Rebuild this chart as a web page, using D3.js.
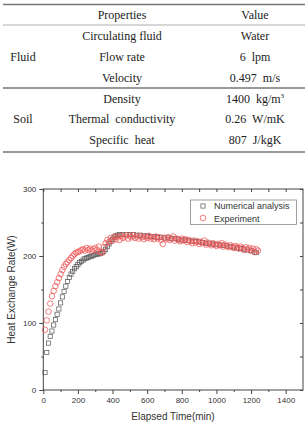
<!DOCTYPE html>
<html>
<head>
<meta charset="utf-8">
<script src="https://cdn.jsdelivr.net/npm/d3@7"></script>
<style>
  body { margin: 0; background: #fff; }
  svg { display: block; }
</style>
</head>
<body>
<div id="chart"></div>
<script>
// table rows
const groups = [
  { name: "Fluid", rows: [["Circulating fluid", "Water"], ["Flow rate", "6  lpm"], ["Velocity", "0.497  m/s"]] },
  { name: "Soil", rows: [["Density", "1400  kg/m"], ["Thermal  conductivity", "0.26  W/mK"], ["Specific  heat", "807  J/kgK"]] }
];
const headers = ["Properties", "Value"];

// series: [time(min), heat exchange rate(W)]
const numerical = [
  [10, 26], [20, 56], [30, 70], [40, 80], [50, 88], [60, 97], [70, 105], [80, 113], [90, 121], [100, 130],
  [110, 139], [120, 147], [130, 155], [140, 162], [150, 168], [160, 173], [170, 177], [180, 181], [190, 184], [200, 187],
  [210, 190], [220, 192], [230, 194], [240, 196], [250, 197], [260, 198], [270, 199], [280, 200], [290, 201], [300, 202],
  [310, 203], [320, 203], [330, 204], [340, 205], [350, 207], [360, 210], [370, 214], [380, 218], [390, 222], [400, 225],
  [410, 228], [420, 230], [430, 231], [440, 232], [460, 232], [480, 232], [500, 232], [520, 232], [540, 231], [560, 231],
  [580, 230], [600, 230], [620, 229], [640, 229], [660, 228], [680, 228], [700, 227], [720, 227], [740, 226], [760, 226],
  [780, 225], [800, 224], [820, 224], [840, 223], [860, 222], [880, 222], [900, 221], [920, 220], [940, 219], [960, 219],
  [980, 218], [1000, 217], [1020, 216], [1040, 216], [1060, 215], [1080, 214], [1100, 213], [1120, 212], [1140, 211], [1160, 210],
  [1180, 209], [1200, 208], [1220, 206], [1230, 205]
];
const experiment = [
  [10, 90], [20, 104], [30, 117], [40, 129], [50, 140], [60, 148], [70, 155], [80, 161], [90, 167], [100, 173],
  [110, 179], [120, 184], [130, 188], [140, 191], [150, 194], [160, 197], [170, 200], [180, 203], [190, 205], [200, 206],
  [210, 207], [220, 209], [230, 210], [240, 208], [250, 212], [260, 209], [270, 211], [280, 208], [290, 210], [300, 212],
  [310, 209], [320, 214], [330, 206], [340, 205], [350, 213], [360, 219], [370, 224], [380, 221], [390, 227], [400, 223],
  [410, 229], [420, 225], [430, 229], [440, 224], [450, 230], [460, 227], [470, 229], [480, 231], [490, 226], [500, 230],
  [510, 228], [520, 231], [530, 227], [540, 229], [550, 226], [560, 230], [570, 228], [580, 225], [590, 229], [600, 227],
  [610, 230], [620, 226], [630, 228], [640, 225], [650, 229], [660, 226], [670, 228], [680, 224], [690, 218], [700, 227],
  [710, 225], [720, 228], [730, 224], [740, 226], [750, 229], [760, 223], [770, 226], [780, 224], [790, 222], [800, 226],
  [810, 223], [820, 225], [830, 221], [840, 224], [850, 222], [860, 219], [870, 223], [880, 220], [890, 222], [900, 218],
  [910, 221], [920, 219], [930, 223], [940, 217], [950, 220], [960, 218], [970, 216], [980, 219], [990, 217], [1000, 215],
  [1010, 218], [1020, 216], [1030, 219], [1040, 214], [1050, 217], [1060, 215], [1070, 213], [1080, 216], [1090, 214], [1100, 212],
  [1110, 215], [1120, 213], [1130, 211], [1140, 214], [1150, 212], [1160, 209], [1170, 213], [1180, 210], [1190, 212], [1200, 208],
  [1210, 211], [1220, 206], [1230, 210], [1240, 208]
];
const xTicks = [0, 200, 400, 600, 800, 1000, 1200, 1400];
const xMinor = [100, 300, 500, 700, 900, 1100, 1300];
const yTicks = [0, 100, 200, 300];
const yMinor = [50, 150, 250];
const legendLabels = ["Numerical analysis", "Experiment"];

const W = 308, H = 422;
const svg = d3.select("#chart").append("svg").attr("width", W).attr("height", H);

// ---- table ----
const tbl = svg.append("g").attr("font-family", "'Liberation Serif', 'DejaVu Serif', serif")
  .attr("font-size", 12).attr("fill", "#222");
const hline = (yy, w, c) => tbl.append("line").attr("x1", 3).attr("x2", 305)
  .attr("y1", yy).attr("y2", yy).attr("stroke", c).attr("stroke-width", w);
hline(4.5, 1.6, "#777");
hline(25, 0.8, "#999");
hline(88, 1.6, "#777");
hline(152, 1.6, "#777");

tbl.append("text").attr("x", 122).attr("y", 19).attr("text-anchor", "middle").text(headers[0]);
tbl.append("text").attr("x", 255).attr("y", 19).attr("text-anchor", "middle").text(headers[1]);

const rowY = [[40, 61, 82], [103, 123, 144]];
groups.forEach((grp, gi) => {
  tbl.append("text").attr("x", 23).attr("y", rowY[gi][1]).attr("text-anchor", "middle").text(grp.name);
  grp.rows.forEach((r, ri) => {
    tbl.append("text").attr("x", 122).attr("y", rowY[gi][ri]).attr("text-anchor", "middle")
      .style("white-space", "pre").text(r[0]);
    const t = tbl.append("text").attr("x", 255).attr("y", rowY[gi][ri]).attr("text-anchor", "middle")
      .style("white-space", "pre").text(r[1]);
    if (gi === 1 && ri === 0) t.append("tspan").attr("font-size", 7).attr("dy", -5).text("3");
  });
});

// ---- chart ----
const x = d3.scaleLinear().domain([0, 1500]).range([43.3, 303]);
const y = d3.scaleLinear().domain([0, 300]).range([390, 189]);
const axisColor = "#444";
const plot = svg.append("g").attr("font-family", "'Liberation Sans', Arial, sans-serif");

// frame
plot.append("rect").attr("x", x(0)).attr("y", y(300)).attr("width", x(1500) - x(0))
  .attr("height", y(0) - y(300)).attr("fill", "none").attr("stroke", axisColor).attr("stroke-width", 1);

const axBottom = plot.append("g").attr("transform", `translate(0,${y(0)})`)
  .call(d3.axisBottom(x).tickValues(xTicks).tickSize(4).tickPadding(3).tickFormat(d3.format("d")));
const axBottomMinor = plot.append("g").attr("transform", `translate(0,${y(0)})`)
  .call(d3.axisBottom(x).tickValues(xMinor).tickSize(2).tickFormat(""));
const axTop = plot.append("g").attr("transform", `translate(0,${y(300)})`)
  .call(d3.axisBottom(x).tickValues(xTicks.concat(xMinor)).tickSize(3).tickFormat(""));
const axLeft = plot.append("g").attr("transform", `translate(${x(0)},0)`)
  .call(d3.axisLeft(y).tickValues(yTicks).tickSize(4).tickPadding(3));
const axLeftMinor = plot.append("g").attr("transform", `translate(${x(0)},0)`)
  .call(d3.axisLeft(y).tickValues(yMinor).tickSize(2).tickFormat(""));
const axRight = plot.append("g").attr("transform", `translate(${x(1500)},0)`)
  .call(d3.axisLeft(y).tickValues(yTicks.concat(yMinor)).tickSize(3).tickFormat(""));

[axBottom, axBottomMinor, axTop, axLeft, axLeftMinor, axRight].forEach(a => {
  a.select(".domain").remove();
  a.selectAll("line").attr("stroke", axisColor);
  a.selectAll("text").attr("fill", "#333").attr("font-size", 8).attr("font-family", "'Liberation Sans', Arial, sans-serif");
});

plot.append("text").attr("x", 173).attr("y", 420).attr("text-anchor", "middle")
  .attr("font-size", 10).attr("fill", "#333").text("Elapsed Time(min)");
plot.append("text").attr("transform", `translate(14.5,${(y(0) + y(300)) / 2}) rotate(-90)`)
  .attr("text-anchor", "middle").attr("font-size", 10).attr("fill", "#333").text("Heat Exchange Rate(W)");

// numerical squares
const sq = 4.2;
plot.append("g").selectAll("rect").data(numerical).join("rect")
  .attr("x", d => x(d[0]) - sq / 2).attr("y", d => y(d[1]) - sq / 2)
  .attr("width", sq).attr("height", sq)
  .attr("fill", "none").attr("stroke", "#555").attr("stroke-width", 0.7);

// experiment circles
plot.append("g").selectAll("circle").data(experiment).join("circle")
  .attr("cx", d => x(d[0])).attr("cy", d => y(d[1])).attr("r", 2.8)
  .attr("fill", "none").attr("stroke", "#f05a5a").attr("stroke-width", 0.8);

// legend
const lg = plot.append("g");
lg.append("rect").attr("x", 190.5).attr("y", 200).attr("width", 106).attr("height", 24.5)
  .attr("fill", "#fff").attr("stroke", "#888").attr("stroke-width", 0.8);
lg.append("rect").attr("x", 203 - sq / 2).attr("y", 206 - sq / 2).attr("width", sq).attr("height", sq)
  .attr("fill", "none").attr("stroke", "#555").attr("stroke-width", 0.7);
lg.append("circle").attr("cx", 203).attr("cy", 218).attr("r", 2.8)
  .attr("fill", "none").attr("stroke", "#f05a5a").attr("stroke-width", 0.8);
lg.selectAll("text").data(legendLabels).join("text")
  .attr("x", 214).attr("y", (d, i) => 209.3 + i * 12.3)
  .attr("font-size", 9).attr("fill", "#333").text(d => d);
</script>
</body>
</html>
